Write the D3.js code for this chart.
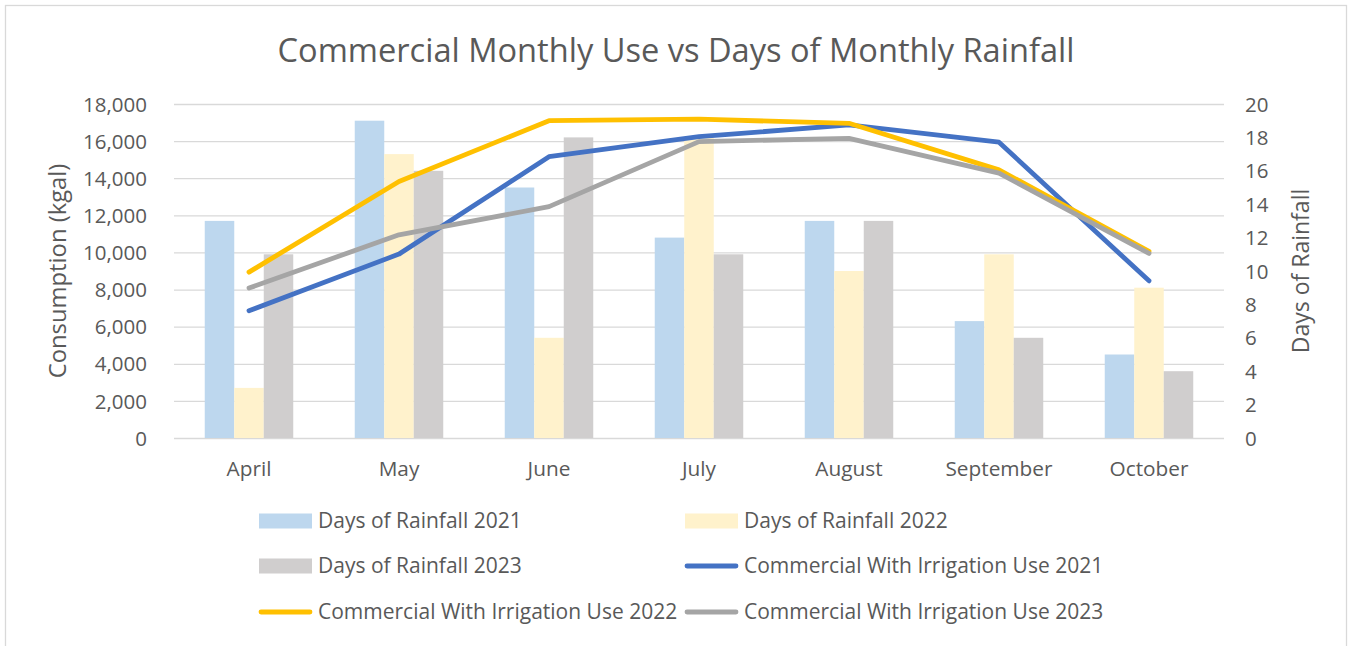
<!DOCTYPE html>
<html>
<head>
<meta charset="utf-8">
<script src="https://cdn.jsdelivr.net/npm/d3@7"></script>
<style>
  html, body { margin: 0; padding: 0; background: #fff; }
  svg { display: block; }
  text { font-family: "Open Sans", Lato, sans-serif; fill: #595959; }
</style>
</head>
<body>
<svg id="chart" width="1352" height="646"></svg>
<script>
// Months on the category axis
const months = ["April", "May", "June", "July", "August", "September", "October"];
const years = ["2021", "2022", "2023"];

// Days of rainfall per month (right axis)
const rain2021 = [13, 19, 15, 12, 13, 7, 5];
const rain2022 = [3, 17, 6, 18, 10, 11, 9];
const rain2023 = [11, 16, 18, 11, 13, 6, 4];

// Commercial with irrigation use, kgal (left axis)
const use2021 = [6860, 9910, 15160, 16240, 16870, 15940, 8470];
const use2022 = [8940, 13820, 17100, 17180, 16960, 14450, 10060];
const use2023 = [8080, 10950, 12470, 15970, 16150, 14270, 9950];

// Axis ticks
const leftTicks = [0, 2000, 4000, 6000, 8000, 10000, 12000, 14000, 16000, 18000];
const rightTicks = [0, 2, 4, 6, 8, 10, 12, 14, 16, 18, 20];

const titleText = "Commercial Monthly Use vs Days of Monthly Rainfall";
const leftTitle = "Consumption (kgal)";
const rightTitle = "Days of Rainfall";

const barColors = { "2021": "#BDD7EE", "2022": "#FFF2CC", "2023": "#D0CECE" };
const lineColors = { "2021": "#4472C4", "2022": "#FFC000", "2023": "#A5A5A5" };

const rainByYear = { "2021": rain2021, "2022": rain2022, "2023": rain2023 };
const useByYear = { "2021": use2021, "2022": use2022, "2023": use2023 };

const svg = d3.select("#chart");

// Chart frame
svg.append("rect")
  .attr("x", 5.5).attr("y", 5.5)
  .attr("width", 1341).attr("height", 660)
  .attr("fill", "#fff").attr("stroke", "#D9D9D9").attr("stroke-width", 1.3);

const plot = { left: 174, right: 1224, top: 104, bottom: 438 };

const x = d3.scaleBand().domain(months)
  .range([plot.left, plot.right])
  .paddingInner(0.41).paddingOuter(0.205);
const xSub = d3.scaleBand().domain(years).range([0, x.bandwidth()]);
const yLeft = d3.scaleLinear().domain([0, 18000]).range([plot.bottom, plot.top]);
const yRight = d3.scaleLinear().domain([0, 20]).range([plot.bottom, plot.top]);

// Gridlines
const grid = svg.append("g")
  .attr("transform", `translate(${plot.left},0)`)
  .call(d3.axisLeft(yLeft).tickValues(leftTicks).tickSize(-(plot.right - plot.left)).tickFormat(""));
grid.select(".domain").remove();
grid.selectAll("line").attr("stroke", "#D9D9D9").attr("stroke-width", 1.3);

// Left axis labels
const gl = svg.append("g")
  .attr("transform", `translate(${plot.left - 27},0)`)
  .call(d3.axisLeft(yLeft).tickValues(leftTicks).tickSize(0).tickPadding(0).tickFormat(d3.format(",")));
gl.select(".domain").remove();
gl.selectAll("text").style("font-size", "20.5px").attr("fill", "#595959").attr("dy", "0.35em");

// Right axis labels
const gr = svg.append("g")
  .attr("transform", `translate(${plot.right + 21},0)`)
  .call(d3.axisRight(yRight).tickValues(rightTicks).tickSize(0).tickPadding(0));
gr.select(".domain").remove();
gr.selectAll("text").style("font-size", "20.5px").attr("fill", "#595959").attr("dy", "0.35em");

// Category labels
const gx = svg.append("g")
  .attr("transform", `translate(0,${plot.bottom + 19})`)
  .call(d3.axisBottom(x).tickSize(0).tickPadding(0));
gx.select(".domain").remove();
gx.selectAll("text").style("font-size", "20.8px").attr("fill", "#595959").attr("dy", "0.9em");

// Bars: days of rainfall
years.forEach(yr => {
  svg.append("g").selectAll("rect")
    .data(months.map((m, i) => ({ m, v: rainByYear[yr][i] })))
    .join("rect")
    .attr("x", d => x(d.m) + xSub(yr))
    .attr("width", xSub.bandwidth())
    .attr("y", d => yRight(d.v))
    .attr("height", d => yRight(0) - yRight(d.v))
    .attr("fill", barColors[yr]);
});

// Lines: commercial use
const line = d3.line()
  .x(d => x(d.m) + x.bandwidth() / 2)
  .y(d => yLeft(d.v));
years.forEach(yr => {
  svg.append("path")
    .datum(months.map((m, i) => ({ m, v: useByYear[yr][i] })))
    .attr("d", line)
    .attr("fill", "none")
    .attr("stroke", lineColors[yr])
    .attr("stroke-width", 4.8)
    .attr("stroke-linecap", "round")
    .attr("stroke-linejoin", "round");
});

// Title
svg.append("text")
  .attr("x", 676).attr("y", 62)
  .attr("text-anchor", "middle")
  .style("font-size", "32.6px")
  .text(titleText);

// Axis titles
svg.append("text")
  .attr("transform", `translate(66,${(plot.top + plot.bottom) / 2}) rotate(-90)`)
  .attr("text-anchor", "middle")
  .style("font-size", "23.8px")
  .text(leftTitle);
svg.append("text")
  .attr("transform", `translate(1309,${(plot.top + plot.bottom) / 2}) rotate(-90)`)
  .attr("text-anchor", "middle")
  .style("font-size", "23px")
  .text(rightTitle);

// Legend
const legendItems = [
  { label: "Days of Rainfall 2021", type: "bar", yr: "2021" },
  { label: "Days of Rainfall 2022", type: "bar", yr: "2022" },
  { label: "Days of Rainfall 2023", type: "bar", yr: "2023" },
  { label: "Commercial With Irrigation Use 2021", type: "line", yr: "2021" },
  { label: "Commercial With Irrigation Use 2022", type: "line", yr: "2022" },
  { label: "Commercial With Irrigation Use 2023", type: "line", yr: "2023" }
];
const colX = [259, 685];
const rowY = [521, 566, 612];
const legend = svg.append("g");
legendItems.forEach((it, i) => {
  const gx0 = colX[i % 2], gy0 = rowY[Math.floor(i / 2)];
  const g = legend.append("g").attr("transform", `translate(${gx0},${gy0})`);
  if (it.type === "bar") {
    g.append("rect").attr("x", 0).attr("y", -7.5).attr("width", 53).attr("height", 15)
      .attr("fill", barColors[it.yr]);
  } else {
    g.append("line").attr("x1", 2).attr("x2", 51).attr("y1", 0).attr("y2", 0)
      .attr("stroke", lineColors[it.yr]).attr("stroke-width", 4.8).attr("stroke-linecap", "round");
  }
  g.append("text").attr("x", 59).attr("y", 0).attr("dy", "0.35em")
    .style("font-size", "21px").text(it.label);
});
</script>
</body>
</html>
